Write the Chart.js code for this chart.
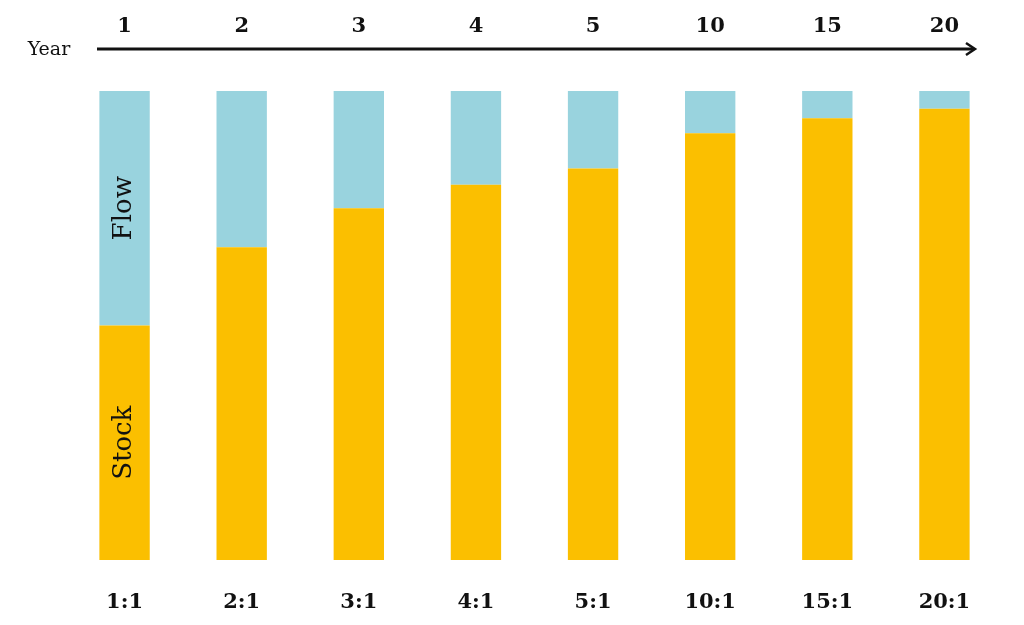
<!DOCTYPE html>
<html>
<head>
<meta charset="utf-8">
<script src="https://cdn.jsdelivr.net/npm/chart.js@4/dist/chart.umd.min.js"></script>
<style>
	html, body { margin: 0; padding: 0; background: #fff; }
	#wrap { width: 1024px; height: 625px; position: relative; }
</style>
</head>
<body>
<div id="wrap"><canvas id="chartSF"></canvas></div>
<script>
'use strict'

// stock-to-flow ratios, one bar per year
const ratios = ['1:1', '2:1', '3:1', '4:1', '5:1', '10:1', '15:1', '20:1'];
const years = ['1', '2', '3', '4', '5', '10', '15', '20'];
const stock = [50, 66.7, 75, 80, 83.5, 91, 94.2, 96.2];
const flow = [50, 33.3, 25, 20, 16.5, 9, 5.8, 3.8];

const colors = {
	stock: '#FBBF00',
	flow: '#99D3DE',
	text: '#111111',
};

const serif = "'DejaVu Serif', 'Liberation Serif', serif";

// arrow under the year labels, plus "Year" and the in-bar labels
const decorations = {
	id: 'decorations',
	afterDatasetsDraw(chart) {
		const ctx = chart.ctx;
		const area = chart.chartArea;
		const lineY = 49;
		const x0 = area.left + 31;
		const x1 = area.right - 29;

		ctx.save();
		ctx.strokeStyle = colors.text;
		ctx.lineWidth = 3;
		ctx.beginPath();
		ctx.moveTo(x0, lineY);
		ctx.lineTo(x1, lineY);
		ctx.stroke();
		ctx.lineWidth = 2.5;
		ctx.beginPath();
		ctx.moveTo(x1 - 8, lineY - 6);
		ctx.lineTo(x1 + 1, lineY);
		ctx.lineTo(x1 - 8, lineY + 6);
		ctx.stroke();

		ctx.fillStyle = colors.text;
		ctx.font = '19px ' + serif;
		ctx.textAlign = 'center';
		ctx.textBaseline = 'middle';
		ctx.fillText('Year', 49, 50);

		// names of the two parts inside the first bar
		const names = ['Stock', 'Flow'];
		ctx.font = '26px ' + serif;
		names.forEach((name, i) => {
			const bar = chart.getDatasetMeta(i).data[0];
			const cy = (bar.y + bar.base) / 2;
			ctx.save();
			ctx.translate(bar.x, cy);
			ctx.rotate(-Math.PI / 2);
			ctx.fillText(name, 0, 0);
			ctx.restore();
		});
		ctx.restore();
	},
};

let chart = new Chart(document.getElementById('chartSF'), {
	type: 'bar',
	data: {
		labels: ratios,
		datasets: [
			{
				label: 'Stock',
				data: stock,
				backgroundColor: colors.stock,
				barPercentage: 0.43,
				categoryPercentage: 1,
			},
			{
				label: 'Flow',
				data: flow,
				backgroundColor: colors.flow,
				barPercentage: 0.43,
				categoryPercentage: 1,
			},
		],
	},
	options: {
		responsive: true,
		maintainAspectRatio: false,
		animation: false,
		layout: {
			padding: { left: 66, right: 21, top: 0, bottom: 0 },
		},
		plugins: {
			legend: { display: false },
			tooltip: { enabled: false },
		},
		scales: {
			x: {
				stacked: true,
				position: 'bottom',
				grid: { display: false, drawTicks: false },
				border: { display: false },
				ticks: {
					color: colors.text,
					padding: 30,
					font: { family: serif, size: 21, weight: 'bold' },
				},
				afterFit(scale) { scale.height = 65; },
			},
			x2: {
				type: 'category',
				position: 'top',
				labels: years,
				offset: true,
				grid: { display: false, drawTicks: false },
				border: { display: false },
				ticks: {
					color: colors.text,
					padding: 52,
					font: { family: serif, size: 21, weight: 'bold' },
				},
				afterFit(scale) { scale.height = 91; },
			},
			y: {
				stacked: true,
				display: false,
				min: 0,
				max: 100,
			},
		},
	},
	plugins: [decorations],
});
</script>
</body>
</html>
